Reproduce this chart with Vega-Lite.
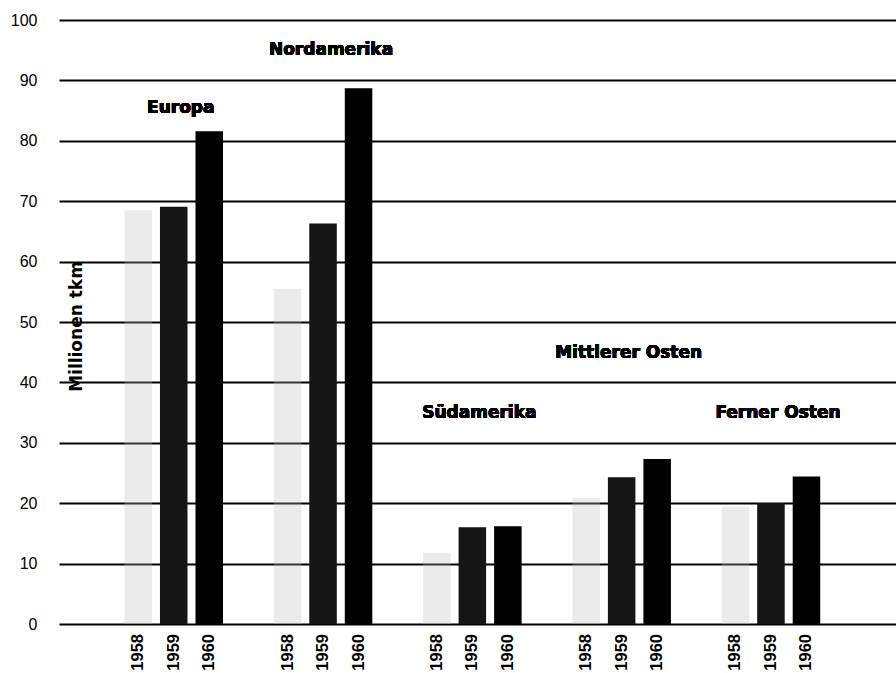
{
  "$schema": "https://vega.github.io/schema/vega-lite/v6.json",
  "width": 837,
  "height": 604,
  "autosize": {"type": "none"},
  "padding": {"left": 59, "top": 20, "right": 0, "bottom": 49},
  "background": "white",
  "config": {"view": {"stroke": null}},
  "data": {
    "values": [
      {"Region": "Europa", "Jahr": "1958", "Wert": 68.5},
      {"Region": "Europa", "Jahr": "1959", "Wert": 69.1},
      {"Region": "Europa", "Jahr": "1960", "Wert": 81.6},
      {"Region": "Nordamerika", "Jahr": "1958", "Wert": 55.5},
      {"Region": "Nordamerika", "Jahr": "1959", "Wert": 66.3},
      {"Region": "Nordamerika", "Jahr": "1960", "Wert": 88.7},
      {"Region": "Südamerika", "Jahr": "1958", "Wert": 11.8},
      {"Region": "Südamerika", "Jahr": "1959", "Wert": 16.0},
      {"Region": "Südamerika", "Jahr": "1960", "Wert": 16.2},
      {"Region": "Mittlerer Osten", "Jahr": "1958", "Wert": 20.8},
      {"Region": "Mittlerer Osten", "Jahr": "1959", "Wert": 24.3},
      {"Region": "Mittlerer Osten", "Jahr": "1960", "Wert": 27.3},
      {"Region": "Ferner Osten", "Jahr": "1958", "Wert": 19.4},
      {"Region": "Ferner Osten", "Jahr": "1959", "Wert": 20.0},
      {"Region": "Ferner Osten", "Jahr": "1960", "Wert": 24.4}
    ]
  },
  "layer": [
    {
      "mark": {"type": "bar"},
      "encoding": {
        "x": {
          "field": "Region",
          "type": "nominal",
          "scale": {
            "domain": ["Europa", "Nordamerika", "Südamerika", "Mittlerer Osten", "Ferner Osten"],
            "paddingInner": 0.34,
            "paddingOuter": 0.473,
            "align": 0.4635
          },
          "axis": null
        },
        "xOffset": {
          "field": "Jahr",
          "type": "nominal",
          "scale": {"domain": ["1958", "1959", "1960"], "paddingInner": 0.225, "paddingOuter": 0}
        },
        "y": {
          "field": "Wert",
          "type": "quantitative",
          "scale": {"domain": [0, 100], "nice": false},
          "axis": {
            "values": [0, 10, 20, 30, 40, 50, 60, 70, 80, 90, 100],
            "grid": true,
            "gridColor": "black",
            "gridWidth": 2.2,
            "gridOpacity": 1,
            "domain": false,
            "ticks": false,
            "labelPadding": 22,
            "labelFont": "Arial",
            "labelFontSize": 16,
            "labelColor": "black",
            "title": "Millionen tkm",
            "titleFont": "DejaVu Sans",
            "titleFontSize": 17,
            "titleFontWeight": "bold",
            "titleColor": "black",
            "titleAngle": 270,
            "titleX": 17,
            "titleY": 306,
            "titleAlign": "center",
            "titleBaseline": "middle"
          }
        },
        "color": {
          "field": "Jahr",
          "type": "nominal",
          "scale": {
            "domain": ["1958", "1959", "1960"],
            "range": ["rgba(190,190,190,0.3)", "#151515", "#000000"]
          },
          "legend": null
        }
      }
    },
    {
      "mark": {
        "type": "text",
        "angle": 270,
        "align": "right",
        "baseline": "middle",
        "dx": -10,
        "font": "Arial",
        "fontSize": 16.5,
        "fontWeight": "bold",
        "color": "black"
      },
      "encoding": {
        "x": {"field": "Region", "type": "nominal", "axis": null},
        "xOffset": {"field": "Jahr", "type": "nominal"},
        "y": {"datum": 0, "type": "quantitative"},
        "text": {"field": "Jahr"}
      }
    },
    {
      "mark": {"type": "text", "font": "DejaVu Sans", "fontSize": 17, "fontWeight": "bold", "baseline": "alphabetic", "align": "center", "dx": 7, "color": "black"},
      "encoding": {
        "x": {"datum": "Europa", "type": "nominal", "axis": null},
        "y": {"datum": 84.6, "type": "quantitative"},
        "text": {"value": "Europa"}
      }
    },
    {
      "mark": {"type": "text", "font": "DejaVu Sans", "fontSize": 17, "fontWeight": "bold", "baseline": "alphabetic", "align": "center", "dx": 8, "color": "black"},
      "encoding": {
        "x": {"datum": "Nordamerika", "type": "nominal", "axis": null},
        "y": {"datum": 94.2, "type": "quantitative"},
        "text": {"value": "Nordamerika"}
      }
    },
    {
      "mark": {"type": "text", "font": "DejaVu Sans", "fontSize": 17, "fontWeight": "bold", "baseline": "alphabetic", "align": "center", "dx": 7, "color": "black"},
      "encoding": {
        "x": {"datum": "Südamerika", "type": "nominal", "axis": null},
        "y": {"datum": 34.1, "type": "quantitative"},
        "text": {"value": "Südamerika"}
      }
    },
    {
      "mark": {"type": "text", "font": "DejaVu Sans", "fontSize": 17, "fontWeight": "bold", "baseline": "alphabetic", "align": "center", "dx": 7, "color": "black"},
      "encoding": {
        "x": {"datum": "Mittlerer Osten", "type": "nominal", "axis": null},
        "y": {"datum": 44.0, "type": "quantitative"},
        "text": {"value": "Mittlerer Osten"}
      }
    },
    {
      "mark": {"type": "text", "font": "DejaVu Sans", "fontSize": 17, "fontWeight": "bold", "baseline": "alphabetic", "align": "center", "dx": 7, "color": "black"},
      "encoding": {
        "x": {"datum": "Ferner Osten", "type": "nominal", "axis": null},
        "y": {"datum": 34.1, "type": "quantitative"},
        "text": {"value": "Ferner Osten"}
      }
    }
  ]
}
